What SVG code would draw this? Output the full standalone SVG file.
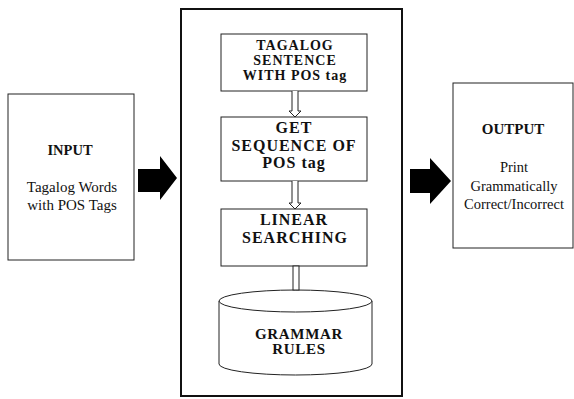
<svg xmlns="http://www.w3.org/2000/svg" width="574" height="399" viewBox="0 0 574 399">
<style>
.box{fill:#fff;stroke:#222;stroke-width:1}
.t{fill:#111;text-anchor:middle}
.b{font-weight:bold}
.cap{font-weight:bold;letter-spacing:1px}
.hollow{fill:#fff;stroke:#222;stroke-width:1}
.solid{fill:#000;stroke:none}
</style>
<rect width="574" height="399" fill="#fff"/>
<g font-family="Liberation Serif, Times New Roman, serif">
<g id="main-frame">
<rect x="181" y="9" width="221" height="387" fill="none" stroke="#111" stroke-width="2"/>
</g>
<g id="input">
<rect class="box" x="8" y="94" width="126" height="166"/>
<text class="t b" x="70" y="155" font-size="14.5">INPUT</text>
<text class="t" x="72" y="192" font-size="15">Tagalog Words</text>
<text class="t" x="72" y="210" font-size="15">with POS Tags</text>
</g>
<g id="output">
<rect class="box" x="453" y="83" width="120" height="165"/>
<text class="t b" x="513" y="134" font-size="15">OUTPUT</text>
<text class="t" x="514" y="172" font-size="14.5">Print</text>
<text class="t" x="514" y="191" font-size="14.5">Grammatically</text>
<text class="t" x="514" y="209" font-size="14.5">Correct/Incorrect</text>
</g>
<g id="tagalog-sentence">
<rect class="box" x="221" y="34" width="146" height="57"/>
<text class="t cap" x="295" y="50" font-size="14">TAGALOG</text>
<text class="t cap" x="295" y="65" font-size="14">SENTENCE</text>
<text class="t cap" x="295" y="80" font-size="14">WITH POS tag</text>
</g>
<g id="get-sequence">
<rect class="box" x="221" y="117" width="146" height="64"/>
<text class="t cap" x="294" y="133" font-size="16">GET</text>
<text class="t cap" x="294" y="151" font-size="16">SEQUENCE OF</text>
<text class="t cap" x="294" y="168" font-size="16">POS tag</text>
</g>
<g id="linear-searching">
<rect class="box" x="221" y="209" width="146" height="57"/>
<text class="t cap" x="294" y="225" font-size="16">LINEAR</text>
<text class="t cap" x="295" y="243" font-size="16">SEARCHING</text>
</g>
<g id="grammar-rules">
<path class="box" d="M219,301 V364 A76.5,11 0 0 0 372,364 V301"/>
<ellipse class="box" cx="295.5" cy="301" rx="76.5" ry="11"/>
<text class="t b" x="299" y="339" font-size="15" letter-spacing="0.7">GRAMMAR</text>
<text class="t b" x="299" y="354" font-size="15" letter-spacing="0.7">RULES</text>
</g>
</g>
<g id="connectors">
<path class="solid" d="M138,169 H160 V156 L177,178 L160,200 V192 H138 Z"/>
<path class="solid" d="M410,169 H430 V158 L451,181 L430,204 V193 H410 Z"/>
<path class="hollow" d="M292,91 V111 H289 L295,117 L301,111 H298 V91"/>
<path class="hollow" d="M292,181 V203 H289 L295,209 L301,203 H298 V181"/>
<rect class="hollow" x="293" y="266" width="6" height="24"/>
</g>
</svg>
